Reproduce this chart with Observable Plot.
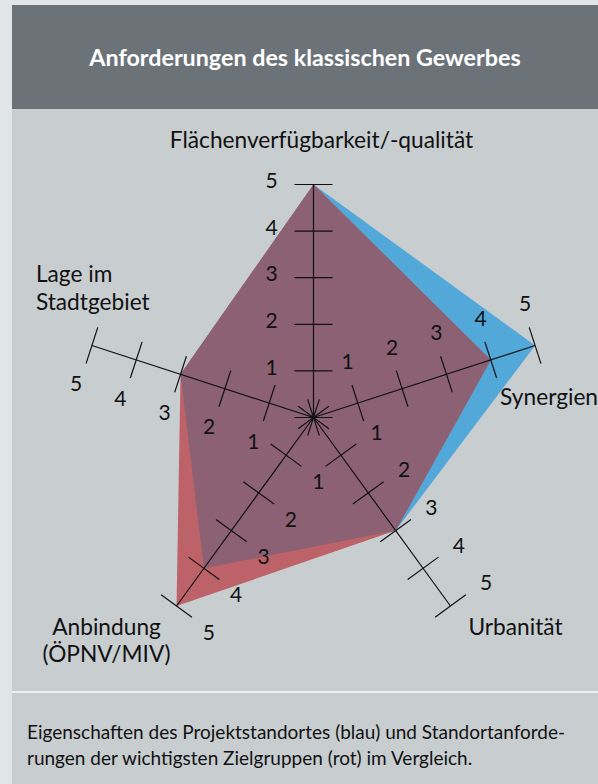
<!DOCTYPE html>
<html>
<head>
<meta charset="utf-8">
<script src="https://cdn.jsdelivr.net/npm/d3@7"></script>
<script src="https://cdn.jsdelivr.net/npm/@observablehq/plot@0.6"></script>
<style>
  html, body { margin: 0; padding: 0; background: #e1e5e8; }
  body { width: 598px; height: 784px; overflow: hidden; position: relative; font-family: Lato, "Open Sans", sans-serif; }
  #wrap { position: absolute; left: 12px; top: 5px; width: 586px; }
  #head { height: 104px; background: #6c7378; color: #fff; font-weight: bold; font-size: 23.3px;
          display: flex; align-items: center; justify-content: center; }
  #chart { background: #c8cdd0; height: 582px; }
  #chart svg { display: block; }
  #sep { height: 2px; background: #eef0f1; }
  #cap { background: #c8cdd0; height: 91px; box-sizing: border-box; padding: 26px 0 0 15px;
         font-size: 19px; line-height: 25.7px; color: #111; white-space: nowrap; }
</style>
</head>
<body>
<div id="wrap">
  <div id="head">Anforderungen des klassischen Gewerbes</div>
  <div id="chart"></div>
  <div id="sep"></div>
  <div id="cap">Eigenschaften des Projektstandortes (blau) und Standortanforde-<br>rungen der wichtigsten Zielgruppen (rot) im Vergleich.</div>
</div>
<script>
// ---- data ----
const axisNames = ["Flächenverfügbarkeit/-qualität", "Synergien", "Urbanität", "Anbindung\n(ÖPNV/MIV)", "Lage im\nStadtgebiet"];
const blau = [5, 5, 3, 4, 3];   // Eigenschaften des Projektstandortes
const rot  = [5, 4, 3, 5, 3];   // Standortanforderungen der Zielgruppen
const tickValues = [0, 1, 2, 3, 4, 5];
const tickLabels = [1, 2, 3, 4, 5];
const maxValue = 5;

// ---- layout / style ----
const W = 586, H = 582, cx = 301, cy = 308;
const k = 46.6;                      // px per unit
const tickHalf = 19 / k;
const labelOff = 42 / k, labelOut = 3 / k;
const colBlue = "#53a8da", colRed = "#bd6268", colOverlap = "#8b6173";
const labelLayout = [
  {dx: 8,   dy: -45,  anchor: "middle"},
  {dx: -35, dy: 51,   anchor: "start"},
  {dx: 18,  dy: 20.5, anchor: "start"},
  {dx: -70, dy: 33.5, anchor: "middle"},
  {dx: -56, dy: -58.5, anchor: "start"}
];

const n = axisNames.length;
const ang = i => (90 - 360 / n * i) * Math.PI / 180;
const dir = i => [Math.cos(ang(i)), Math.sin(ang(i))];
const nor = i => { const [c, s] = dir(i); return [-s, c]; };

const poly = vals => vals.map((v, i) => ({x: v * dir(i)[0], y: v * dir(i)[1]}));
const overlap = blau.map((b, i) => Math.min(b, rot[i]));

const axisLines = axisNames.map((a, i) => ({x1: 0, y1: 0, x2: maxValue * dir(i)[0], y2: maxValue * dir(i)[1]}));
const ticks = axisNames.flatMap((a, i) => tickValues.map(t => {
  const [c, s] = dir(i), [nx, ny] = nor(i);
  return {x1: t * c - nx * tickHalf, y1: t * s - ny * tickHalf, x2: t * c + nx * tickHalf, y2: t * s + ny * tickHalf};
}));
const tickText = axisNames.flatMap((a, i) => tickLabels.map(t => {
  const [c, s] = dir(i), [nx, ny] = nor(i);
  return {x: t * c + nx * labelOff + c * labelOut, y: t * s + ny * labelOff + s * labelOut, text: String(t)};
}));

const marks = [
  Plot.line(poly(blau), {x: "x", y: "y", fill: colBlue, stroke: "none", curve: "linear-closed"}),
  Plot.line(poly(rot), {x: "x", y: "y", fill: colRed, stroke: "none", curve: "linear-closed"}),
  Plot.line(poly(overlap), {x: "x", y: "y", fill: colOverlap, stroke: "none", curve: "linear-closed"}),
  Plot.link(axisLines, {x1: "x1", y1: "y1", x2: "x2", y2: "y2", stroke: "#111", strokeWidth: 1.2}),
  Plot.link(ticks, {x1: "x1", y1: "y1", x2: "x2", y2: "y2", stroke: "#111", strokeWidth: 1.2}),
  Plot.text(tickText, {x: "x", y: "y", text: "text", fontSize: 21, fill: "#111"}),
  ...axisNames.map((a, i) => Plot.text([{x: maxValue * dir(i)[0], y: maxValue * dir(i)[1], t: a}], {
    x: "x", y: "y", text: "t", dx: labelLayout[i].dx, dy: labelLayout[i].dy,
    textAnchor: labelLayout[i].anchor, lineHeight: 1.22, fontSize: 22.7, fill: "#111"
  }))
];

const chart = Plot.plot({
  width: W, height: H, margin: 0,
  x: {domain: [-cx / k, (W - cx) / k], axis: null},
  y: {domain: [-(H - cy) / k, cy / k], axis: null},
  style: {background: "transparent", fontFamily: "Lato, 'Open Sans', sans-serif"},
  marks
});
document.getElementById("chart").appendChild(chart);
</script>
</body>
</html>
